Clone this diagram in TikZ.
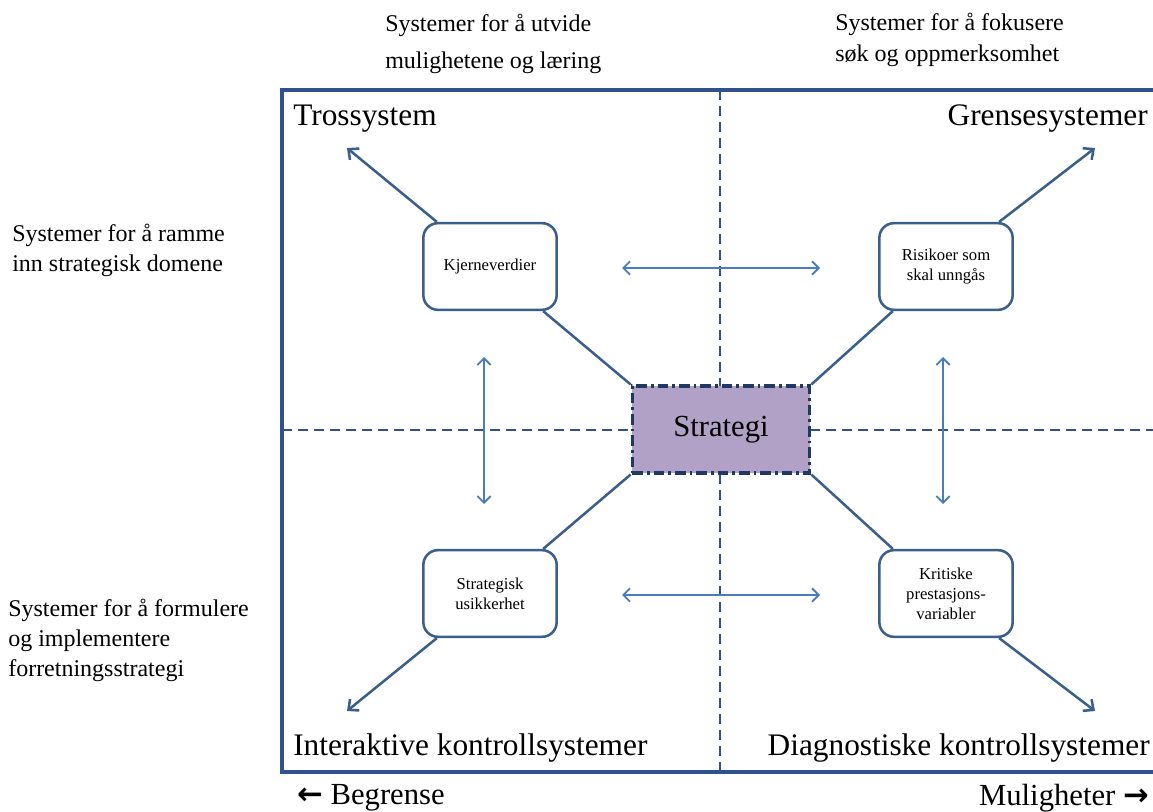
\documentclass[tikz,border=0pt]{standalone}
\usepackage{fontspec}
\setmainfont{Liberation Serif}
\newfontfamily\arrowfont{DejaVu Sans}
\usepackage{xcolor}
\usepackage{tikz}
\usetikzlibrary{arrows.meta}

\definecolor{frameblue}{HTML}{2F528F}
\definecolor{linkblue}{HTML}{3A5F8B}
\definecolor{arrowblue}{HTML}{4A7EBB}
\definecolor{stratfill}{HTML}{B2A1C7}
\definecolor{stratedge}{HTML}{1F3864}

\begin{document}
\begin{tikzpicture}[x=0.75pt, y=-0.75pt,
        valuebox/.style = {draw = linkblue, line width = 1.9pt, fill = white,
            rounded corners = 11pt, minimum width = 100pt, minimum height = 65pt,
            align = center, font = \fontsize{12.5}{15}\selectfont, inner sep = 2pt},
        stratbox/.style = {draw = stratedge, fill = stratfill, line width = 2.6pt,
            dash pattern = on 8pt off 3pt on 2pt off 3pt,
            minimum width = 133pt, minimum height = 65pt,
            font = \fontsize{23}{27}\selectfont},
        divider/.style = {draw = frameblue, line width = 1.5pt,
            dash pattern = on 7.5pt off 4.5pt},
        link/.style = {draw = linkblue, line width = 1.9pt},
        outlink/.style = {link, -{Straight Barb[length = 6pt, width = 11pt, line width = 1.9pt]}},
        twoway/.style = {draw = arrowblue, line width = 1.4pt,
            {Straight Barb[length = 5pt, width = 10pt]}-{Straight Barb[length = 5pt, width = 10pt]}},
        corner/.style = {inner sep = 0pt, font = \fontsize{23.5}{27}\selectfont},
        side/.style = {inner sep = 0pt, align = left},
    ]
        \useasboundingbox (0, 0) rectangle (1153, 812);

        % frame and dividers
        \draw[frameblue, line width = 2.5pt] (1153, 90) -- (282, 90) -- (282, 772) -- (1153, 772);
        \draw[divider] (720, 90) -- (720, 772);
        \draw[divider] (282, 430) -- (1153, 430);

        % centre and the four systems
        \node[stratbox] (strat) at (721, 429.5) {Strategi};
        \node[valuebox] (kjerne) at (490, 266.5) {Kjerneverdier};
        \node[valuebox] (risiko) at (946, 266.5) {Risikoer som\\skal unngås};
        \node[valuebox] (usikker) at (490, 593.5) {Strategisk\\usikkerhet};
        \node[valuebox] (kritisk) at (946, 593.5) {Kritiske\\prestasjons-\\variabler};

        \coordinate (tl) at (347, 148);
        \coordinate (tr) at (1095, 148);
        \coordinate (bl) at (347, 711);
        \coordinate (br) at (1095, 711);

        \draw[link] (strat.north west) -- (kjerne.-40);
        \draw[link] (strat.north east) -- (risiko.-140);
        \draw[link] (strat.south west) -- (usikker.40);
        \draw[link] (strat.south east) -- (kritisk.140);
        \draw[outlink] (kjerne.140) -- (tl);
        \draw[outlink] (risiko.40) -- (tr);
        \draw[outlink] (usikker.-140) -- (bl);
        \draw[outlink] (kritisk.-40) -- (br);

        % arrows between the systems
        \coordinate (ht1) at (622, 268);
        \coordinate (ht2) at (820, 268);
        \coordinate (hb1) at (622, 595);
        \coordinate (hb2) at (820, 595);
        \coordinate (vl1) at (484, 357);
        \coordinate (vl2) at (484, 504);
        \coordinate (vr1) at (943, 357);
        \coordinate (vr2) at (943, 504);
        \draw[twoway] (ht1) -- (ht2);
        \draw[twoway] (hb1) -- (hb2);
        \draw[twoway] (vl1) -- (vl2);
        \draw[twoway] (vr1) -- (vr2);

        % corner labels
        \node[corner, anchor = west] (tros) at (293, 119) {Trossystem};
        \node[corner, anchor = east] (grense) at (1148, 119) {Grensesystemer};
        \node[corner, anchor = west] (inter) at (293, 748) {Interaktive kontrollsystemer};
        \node[corner, anchor = east] (diag) at (1150, 748) {Diagnostiske kontrollsystemer};

        % outer texts
        \node[side, anchor = west, font = \fontsize{18}{28}\selectfont] (utvide) at (385, 44)
            {Systemer for å utvide\\mulighetene og læring};
        \node[side, anchor = west, font = \fontsize{18}{23}\selectfont] (fokus) at (835, 40)
            {Systemer for å fokusere\\søk og oppmerksomhet};
        \node[side, anchor = west, font = \fontsize{18}{22.5}\selectfont] (ramme) at (12, 250)
            {Systemer for å ramme\\inn strategisk domene};
        \node[side, anchor = west, font = \fontsize{18}{22.5}\selectfont] (formulere) at (8, 640)
            {Systemer for å formulere\\og implementere\\forretningsstrategi};
        \node[side, anchor = west, font = \fontsize{23}{27}\selectfont] (begrense) at (297, 798)
            {{\arrowfont\bfseries ←} Begrense};
        \node[side, anchor = east, font = \fontsize{23}{27}\selectfont] (muligheter) at (1149, 798)
            {Muligheter {\arrowfont\bfseries →}};
    \end{tikzpicture}
\end{document}
